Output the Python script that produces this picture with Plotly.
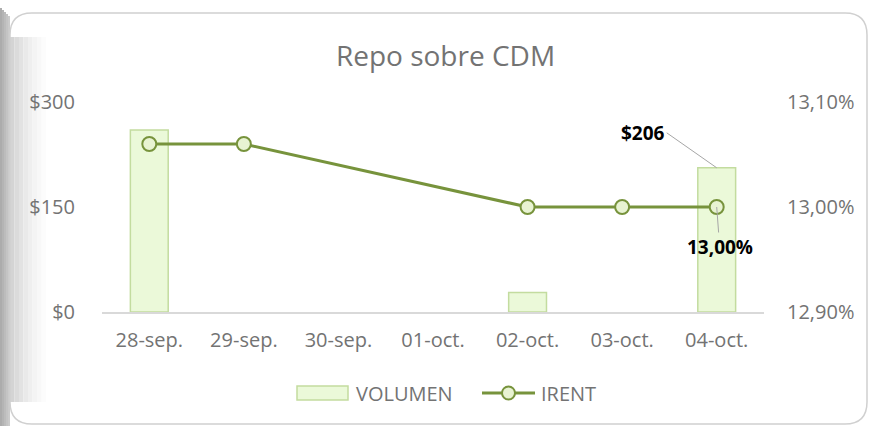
import plotly.graph_objects as go

categories = ["28-sep.", "29-sep.", "30-sep.", "01-oct.", "02-oct.", "03-oct.", "04-oct."]
volumen = [260, None, None, None, 28, None, 206]
irent = [0.1306, 0.1306, None, None, 0.1300, 0.1300, 0.1300]
left_tickvals = [0, 150, 300]
left_ticktext = ["$0", "$150", "$300"]
right_tickvals = [0.129, 0.130, 0.131]
series_names = ["VOLUMEN", "IRENT"]

W, H = 870, 426
ML, MR, MT, MB = 102, 106, 102, 114
PW = W - ML - MR
PH = H - MT - MB

def px(x):
    return (x - ML) / PW

def py(y):
    return (H - MB - y) / PH

FONT = "Open Sans"
GRAY = "#737373"
LINE = "#77933c"
BAR_FILL = "#ebf9d9"
BAR_EDGE = "#c3dc9f"
MARK_FILL = "#e8f3d2"

fig = go.Figure()
fig.add_trace(go.Bar(
    x=categories, y=volumen, name=series_names[0], width=0.4,
    marker=dict(color=BAR_FILL, line=dict(color=BAR_EDGE, width=1.5)),
    yaxis="y", hoverinfo="skip", showlegend=False,
))
fig.add_trace(go.Scatter(
    x=categories, y=irent, name=series_names[1], yaxis="y2", mode="lines+markers",
    connectgaps=True, showlegend=False,
    line=dict(color=LINE, width=3),
    marker=dict(size=14, color=MARK_FILL, line=dict(color=LINE, width=2)),
))

# frame / shadow
shapes = []
r = 22
x0, x1, y0, y1 = 10, 867, 13, 424
path = (f"M {px(x0)},{py(y0 + r)} Q {px(x0)},{py(y0)} {px(x0 + r)},{py(y0)} "
        f"L {px(x1 - r)},{py(y0)} Q {px(x1)},{py(y0)} {px(x1)},{py(y0 + r)} "
        f"L {px(x1)},{py(y1 - r)} Q {px(x1)},{py(y1)} {px(x1 - r)},{py(y1)} "
        f"L {px(x0 + r)},{py(y1)} Q {px(x0)},{py(y1)} {px(x0)},{py(y1 - r)} Z")
outer = ["#acacac", "#b4b4b4", "#bcbcbc", "#c4c4c4", "#cbcbcb"]
for i, c in enumerate(outer):
    shapes.append(dict(type="rect", xref="paper", yref="paper",
                       x0=px(i * 2), x1=px(i * 2 + 2), y0=py(H), y1=py(8 + i * 2),
                       fillcolor=c, line=dict(width=0), layer="below"))
shapes.append(dict(type="path", xref="paper", yref="paper", path=path,
                   fillcolor="white", line=dict(width=0), layer="below"))
inner = ["#d4d4d4", "#dbdbdb", "#e2e2e2", "#e9e9e9", "#efefef", "#f4f4f4", "#f8f8f8", "#fcfcfc"]
for i, c in enumerate(inner):
    shapes.append(dict(type="rect", xref="paper", yref="paper",
                       x0=px(10 + i * 4.5), x1=px(14.5 + i * 4.5), y0=py(y1 - r), y1=py(y0 + r + 2),
                       fillcolor=c, line=dict(width=0), layer="below"))
shapes.append(dict(type="path", xref="paper", yref="paper", path=path,
                   fillcolor="rgba(0,0,0,0)", line=dict(color="#d0d0d0", width=1.5), layer="below"))

# custom legend (wide swatches like the original)
LEG_Y = 393
shapes.append(dict(type="rect", xref="paper", yref="paper",
                   x0=px(297), x1=px(348), y0=py(LEG_Y + 7), y1=py(LEG_Y - 7),
                   fillcolor=BAR_FILL, line=dict(color=BAR_EDGE, width=1.5)))
shapes.append(dict(type="line", xref="paper", yref="paper",
                   x0=px(482), x1=px(535), y0=py(LEG_Y), y1=py(LEG_Y),
                   line=dict(color=LINE, width=3)))
shapes.append(dict(type="circle", xref="paper", yref="paper",
                   x0=px(502), x1=px(515), y0=py(LEG_Y + 6.5), y1=py(LEG_Y - 6.5),
                   fillcolor=MARK_FILL, line=dict(color=LINE, width=2)))

annotations = [
    dict(x=categories[6], y=volumen[6], xref="x", yref="y", text="<b>$206</b>",
         showarrow=True, arrowhead=0, arrowwidth=1, arrowcolor="#a6a6a6",
         ax=-50, ay=-35, xanchor="right", font=dict(family=FONT, size=19, color="black")),
    dict(x=categories[6], y=irent[6], xref="x", yref="y2", text="<b>13,00%</b>",
         showarrow=True, arrowhead=0, arrowwidth=1, arrowcolor="#a6a6a6",
         ax=3, ay=40, yanchor="middle", font=dict(family=FONT, size=19, color="black")),
    dict(x=px(354), y=py(LEG_Y), xref="paper", yref="paper", text=series_names[0],
         showarrow=False, xanchor="left", yanchor="middle",
         font=dict(family=FONT, size=20, color=GRAY)),
    dict(x=px(539), y=py(LEG_Y), xref="paper", yref="paper", text=series_names[1],
         showarrow=False, xanchor="left", yanchor="middle",
         font=dict(family=FONT, size=20, color=GRAY)),
]

fig.update_layout(
    width=W, height=H,
    margin=dict(l=ML, r=MR, t=MT, b=MB),
    paper_bgcolor="white", plot_bgcolor="rgba(0,0,0,0)",
    separators=",.",
    font=dict(family=FONT, size=20, color=GRAY),
    title=dict(text="Repo sobre CDM", x=px(441), xanchor="center", y=1 - 56 / H, yanchor="middle",
               font=dict(family=FONT, size=28, color=GRAY)),
    showlegend=False,
    bargap=0.6,
    xaxis=dict(type="category", showgrid=False, showline=True, linecolor="#d9d9d9", linewidth=1.5,
               ticks="", ticklabelstandoff=9, tickfont=dict(size=20, color=GRAY)),
    yaxis=dict(range=[0, 300], tickvals=left_tickvals, ticktext=left_ticktext, showgrid=False,
               zeroline=False, showline=False, ticks="", ticklabelstandoff=26,
               tickfont=dict(size=20, color=GRAY)),
    yaxis2=dict(range=[0.129, 0.131], tickvals=right_tickvals, tickformat=".2%", overlaying="y",
                side="right", showgrid=False, zeroline=False, showline=False, ticks="",
                ticklabelstandoff=22, tickfont=dict(size=20, color=GRAY)),
    shapes=shapes,
    annotations=annotations,
)

fig.write_html("out.html", config={"displayModeBar": False},
               post_script="document.body.style.margin='0';document.body.style.padding='0';")
